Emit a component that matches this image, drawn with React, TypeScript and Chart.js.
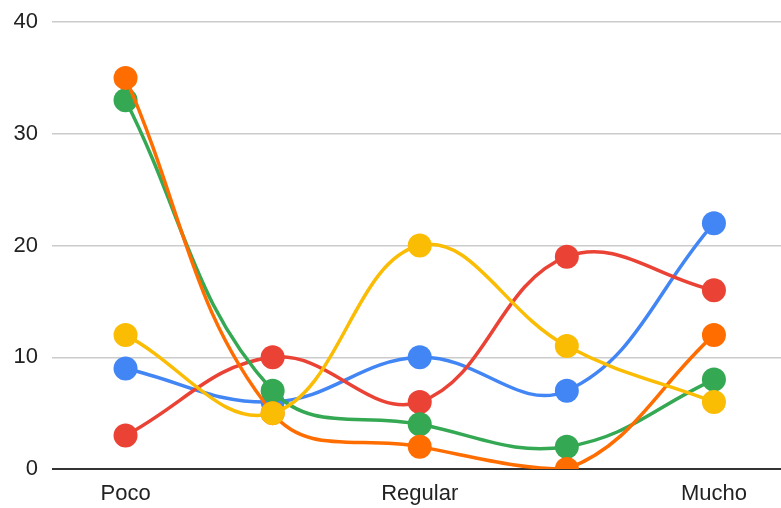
import React, { useEffect, useRef } from "react";
import { Chart, registerables } from "chart.js";

Chart.register(...registerables);

const categories = ["Poco", "", "Regular", "", "Mucho"];
const yTicks = [0, 10, 20, 30, 40];

const blueValues = [9, 6, 10, 7, 22];
const redValues = [3, 10, 6, 19, 16];
const yellowValues = [12, 5, 20, 11, 6];
const greenValues = [33, 7, 4, 2, 8];
const orangeValues = [35, 5, 2, 0, 12];

const seriesList = [
  { name: "Serie 1", values: blueValues, color: "#4285F4", order: 5 },
  { name: "Serie 2", values: redValues, color: "#EA4335", order: 4 },
  { name: "Serie 3", values: yellowValues, color: "#FBBC04", order: 1 },
  { name: "Serie 4", values: greenValues, color: "#34A853", order: 3 },
  { name: "Serie 5", values: orangeValues, color: "#FF6D01", order: 2 },
];

const FONT = "'Liberation Sans', Arial, sans-serif";

export default function App() {
  const ref = useRef<HTMLCanvasElement>(null);

  useEffect(() => {
    document.body.style.margin = "0";
    const canvas = ref.current;
    if (!canvas) return;
    const chart = new Chart(canvas, {
      type: "line",
      data: {
        datasets: seriesList.map((s) => ({
          label: s.name,
          data: s.values.map((v, i) => ({ x: i + 1, y: v })),
          borderColor: s.color,
          backgroundColor: s.color,
          pointBackgroundColor: s.color,
          pointBorderColor: s.color,
          borderWidth: 3.5,
          pointRadius: 12,
          pointBorderWidth: 0,
          tension: 0.4,
          fill: false,
          order: s.order,
        })),
      },
      options: {
        animation: false,
        responsive: false,
        maintainAspectRatio: false,
        layout: { autoPadding: false, padding: { top: 22, right: 0, left: 0, bottom: 0 } },
        plugins: { legend: { display: false }, tooltip: { enabled: false } },
        scales: {
          x: {
            type: "linear",
            min: 0.5,
            max: 5.456,
            grid: { display: false, drawTicks: false },
            border: { display: false },
            afterBuildTicks: (scale: any) => {
              scale.ticks = [{ value: 1 }, { value: 3 }, { value: 5 }];
            },
            afterFit: (scale: any) => {
              scale.height = 39;
              scale.paddingLeft = 0;
              scale.paddingRight = 0;
            },
            ticks: {
              autoSkip: false,
              maxRotation: 0,
              padding: 12,
              color: "#222222",
              font: { family: FONT, size: 22 },
              callback: (v: any) => categories[Math.round(Number(v)) - 1] ?? "",
            },
          },
          y: {
            type: "linear",
            min: 0,
            max: 40,
            afterBuildTicks: (scale: any) => {
              scale.ticks = yTicks.map((v) => ({ value: v }));
            },
            afterFit: (scale: any) => {
              scale.width = 52;
              scale.paddingTop = 0;
              scale.paddingBottom = 0;
            },
            grid: {
              drawTicks: false,
              color: (ctx: any) => (ctx.tick && ctx.tick.value === 0 ? "#333333" : "#cccccc"),
              lineWidth: (ctx: any) => (ctx.tick && ctx.tick.value === 0 ? 2 : 1.5),
            },
            border: { display: false },
            ticks: {
              padding: 14,
              color: "#222222",
              font: { family: FONT, size: 22 },
            },
          },
        },
      },
    } as any);
    return () => chart.destroy();
  }, []);

  return (
    <div style={{ width: 781, height: 508 }}>
      <canvas ref={ref} width={781} height={508} />
    </div>
  );
}
